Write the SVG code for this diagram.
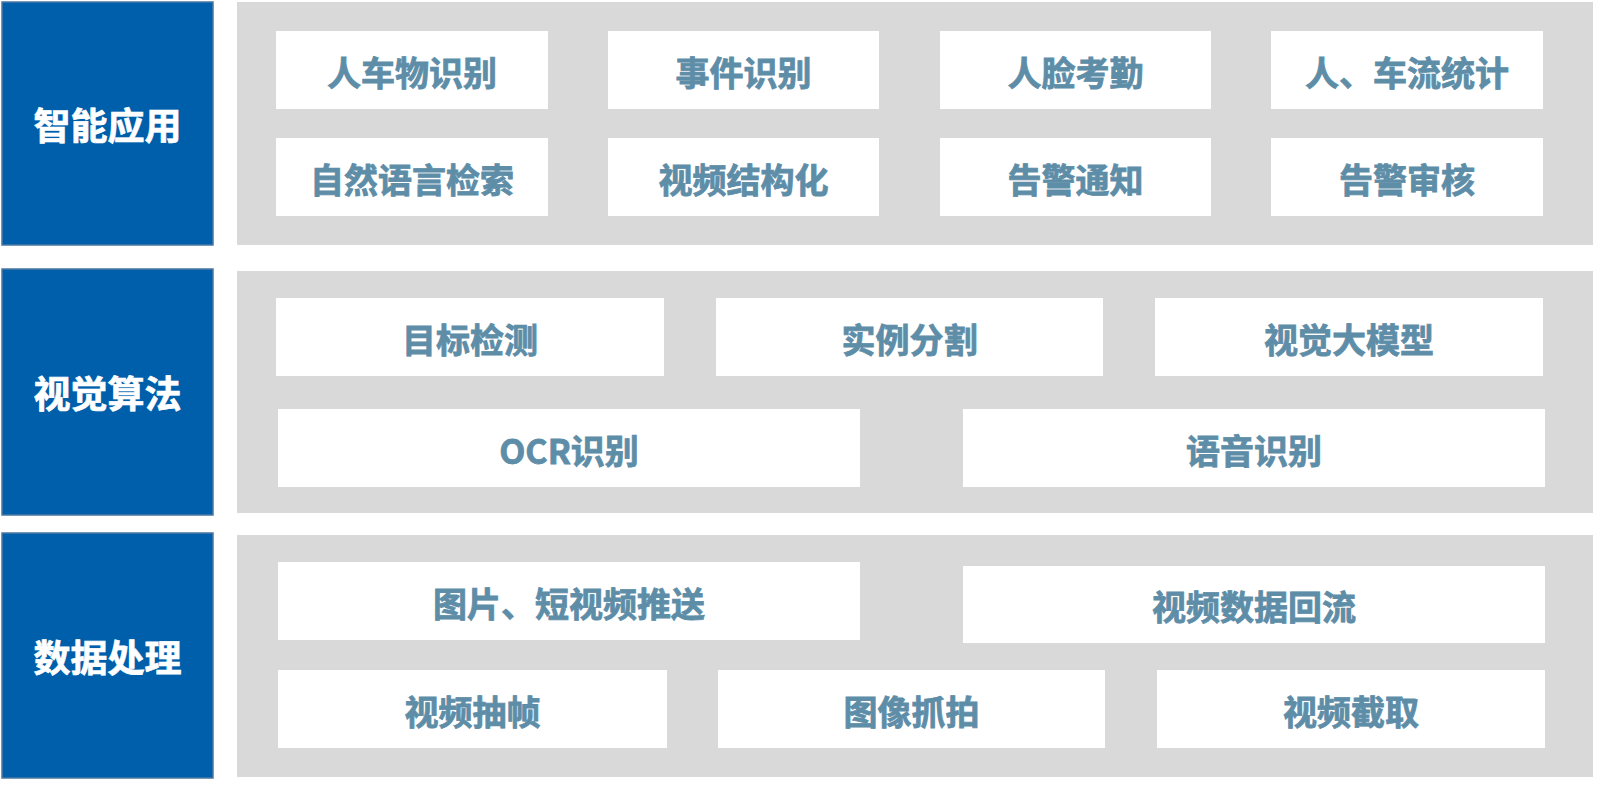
<svg xmlns="http://www.w3.org/2000/svg" width="1600" height="786" viewBox="0 0 1600 786">
<style>
.bg{fill:#ffffff}
.side{fill:#005FAA;stroke:#4A78A4;stroke-width:1.5}
.panel{fill:#D9D9D9}
.box{fill:#ffffff}
.st{font-family:"Microsoft YaHei","Noto Sans CJK SC",sans-serif;font-weight:bold;font-size:37px;fill:#ffffff;stroke:#ffffff;stroke-width:0.7;text-anchor:middle;dominant-baseline:central}
.bt{font-family:"Microsoft YaHei","Noto Sans CJK SC",sans-serif;font-weight:bold;font-size:34px;fill:#5E8DA8;stroke:#5E8DA8;stroke-width:0.8;text-anchor:middle;dominant-baseline:central}
</style>
<rect class="bg" x="0" y="0" width="1600" height="786"/>
<g id="layer-app">
<rect class="side" x="2" y="2" width="211" height="243"/>
<text class="st" x="107.5" y="124">智能应用</text>
<rect class="panel" x="237" y="2" width="1356" height="243"/>
</g>
<g id="layer-algo">
<rect class="side" x="2" y="269" width="211" height="246"/>
<text class="st" x="107.5" y="392">视觉算法</text>
<rect class="panel" x="237" y="271" width="1356" height="242"/>
</g>
<g id="layer-data">
<rect class="side" x="2" y="533" width="211" height="245"/>
<text class="st" x="107.5" y="656">数据处理</text>
<rect class="panel" x="237" y="535" width="1356" height="242"/>
</g>
<g id="n1"><rect class="box" x="276" y="31" width="272" height="78"/><text class="bt" x="412" y="71">人车物识别</text></g>
<g id="n2"><rect class="box" x="608" y="31" width="271" height="78"/><text class="bt" x="743.5" y="71">事件识别</text></g>
<g id="n3"><rect class="box" x="940" y="31" width="271" height="78"/><text class="bt" x="1075.5" y="71">人脸考勤</text></g>
<g id="n4"><rect class="box" x="1271" y="31" width="272" height="78"/><text class="bt" x="1407" y="71">人、车流统计</text></g>
<g id="n5"><rect class="box" x="276" y="138" width="272" height="78"/><text class="bt" x="412" y="178">自然语言检索</text></g>
<g id="n6"><rect class="box" x="608" y="138" width="271" height="78"/><text class="bt" x="743.5" y="178">视频结构化</text></g>
<g id="n7"><rect class="box" x="940" y="138" width="271" height="78"/><text class="bt" x="1075.5" y="178">告警通知</text></g>
<g id="n8"><rect class="box" x="1271" y="138" width="272" height="78"/><text class="bt" x="1407" y="178">告警审核</text></g>
<g id="n9"><rect class="box" x="276" y="298" width="388" height="78"/><text class="bt" x="470" y="338">目标检测</text></g>
<g id="n10"><rect class="box" x="716" y="298" width="387" height="78"/><text class="bt" x="909.5" y="338">实例分割</text></g>
<g id="n11"><rect class="box" x="1155" y="298" width="388" height="78"/><text class="bt" x="1349" y="338">视觉大模型</text></g>
<g id="n12"><rect class="box" x="278" y="409" width="582" height="78"/><text class="bt" x="569" y="449">OCR识别</text></g>
<g id="n13"><rect class="box" x="963" y="409" width="582" height="78"/><text class="bt" x="1254" y="449">语音识别</text></g>
<g id="n14"><rect class="box" x="278" y="562" width="582" height="78"/><text class="bt" x="569" y="602">图片、短视频推送</text></g>
<g id="n15"><rect class="box" x="963" y="566" width="582" height="77"/><text class="bt" x="1254" y="605">视频数据回流</text></g>
<g id="n16"><rect class="box" x="278" y="670" width="389" height="78"/><text class="bt" x="472.5" y="710">视频抽帧</text></g>
<g id="n17"><rect class="box" x="718" y="670" width="387" height="78"/><text class="bt" x="911.5" y="710">图像抓拍</text></g>
<g id="n18"><rect class="box" x="1157" y="670" width="388" height="78"/><text class="bt" x="1351" y="710">视频截取</text></g>
<g id="connectors"></g>
</svg>
